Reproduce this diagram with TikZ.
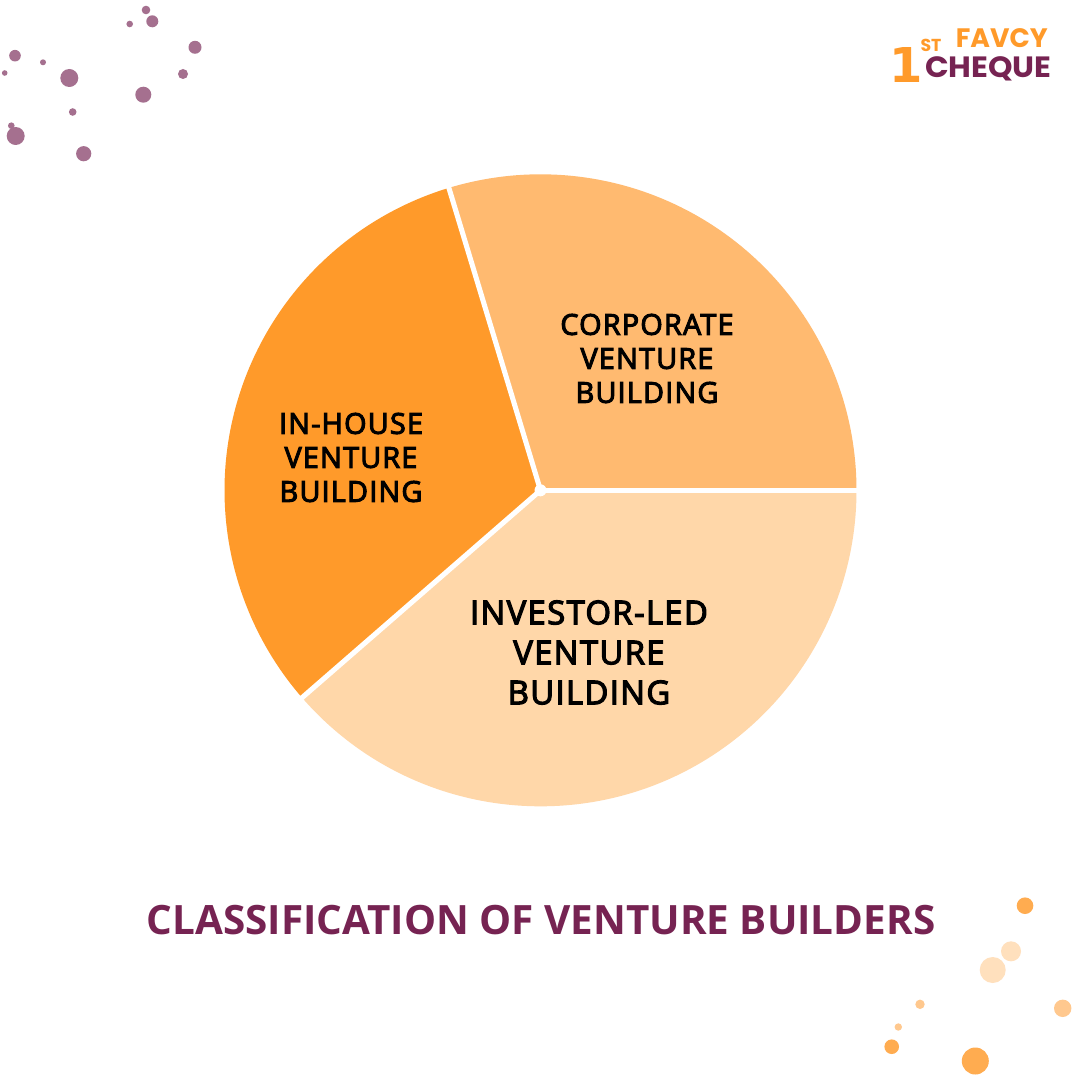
\documentclass[tikz,border=0pt]{standalone}
\usepackage{fontspec}
\setmainfont{Open Sans}
\newfontfamily\semi{Open Sans}[FakeBold=3.6,LetterSpace=4.2]
\newfontfamily\bolder{Open Sans Bold}
\newfontfamily\logofont{Poppins Bold}
\newfontfamily\onefont{DejaVu Sans Bold}
\definecolor{pieA}{HTML}{FFBA70}
\definecolor{pieB}{HTML}{FF9A2A}
\definecolor{pieC}{HTML}{FFD7A9}
\definecolor{plum}{HTML}{762352}
\definecolor{dotP}{HTML}{A5708F}
\definecolor{dotO}{HTML}{FFAC50}
\definecolor{dotL}{HTML}{FFE0BD}
\definecolor{dotM}{HTML}{FFC88E}
\definecolor{logoO}{HTML}{FF9A2A}
\tikzset{
  sep/.style={draw=white,line width=3.8pt},
  lab/.style={align=center,inner sep=0pt,text=black,font=\semi\fontsize{21.6}{25.5}\selectfont},
  labbig/.style={align=center,inner sep=0pt,text=black,font=\semi\fontsize{24.6}{30}\selectfont},
  logot/.style={inner sep=0pt}
}
\newcommand{\dotc}[4]{\fill[#1] (#2,#3) circle[radius=#4];}
\begin{document}
\begin{tikzpicture}[x=0.75pt,y=-0.75pt]
\useasboundingbox (0,0) rectangle (1080,1080);
\fill[white] (0,0) rectangle (1080,1080);
\coordinate (c) at (540.5,490.3);
\coordinate (e1) at (859,490.3);
\coordinate (e2) at (448,185);
\coordinate (e3) at (300.5,699);
% pie
\fill[pieA] (c) -- +(0:316) arc[start angle=0,end angle=-106.7,radius=316] -- cycle;
\fill[pieB] (c) -- +(-106.7:316) arc[start angle=-106.7,end angle=-221,radius=316] -- cycle;
\fill[pieC] (c) -- +(139:316) arc[start angle=139,end angle=0,radius=316] -- cycle;
\draw[sep] (c) -- (e1);
\draw[sep] (c) -- (e2);
\draw[sep] (c) -- (e3);
\fill[white] (c) circle[radius=6];
% labels
\node[lab] (corp) at (647,358.5) {CORPORATE\\VENTURE\\BUILDING};
\node[lab] (inh) at (351,457.5) {IN-HOUSE\\VENTURE\\BUILDING};
\node[labbig] (inv) at (589,652.5) {INVESTOR-LED\\VENTURE\\BUILDING};
\node[inner sep=0pt,text=plum,font=\bolder\fontsize{30.3}{36}\selectfont] (title) at (541,920) {CLASSIFICATION OF VENTURE BUILDERS};
% logo
\node[logot,text=logoO,anchor=base east,font=\logofont\fontsize{20}{20}\selectfont] (favcy) at (1048,48) {FAVCY};
\node[logot,text=logoO,anchor=base,font=\onefont\fontsize{36}{36}\selectfont] (one) at (906,83) {1};
\node[logot,text=logoO,anchor=base,font=\logofont\fontsize{13}{13}\selectfont] (st) at (931,52) {ST};
\node[logot,text=plum,anchor=base east,font=\logofont\fontsize{22}{22}\selectfont,xscale=1.06,transform shape] (cheque) at (1052,78) {CHEQUE};
% dots top-left
\dotc{dotP}{146}{10}{4.3}
\dotc{dotP}{152.3}{21.3}{6}
\dotc{dotP}{129.7}{24}{3.3}
\dotc{dotP}{195}{47.3}{6.5}
\dotc{dotP}{183}{74}{5}
\dotc{dotP}{143.3}{94.7}{8}
\dotc{dotP}{15}{55.7}{5.8}
\dotc{dotP}{43}{62.3}{3}
\dotc{dotP}{4.7}{73}{2.8}
\dotc{dotP}{69.3}{78}{9}
\dotc{dotP}{72.7}{112}{3.8}
\dotc{dotP}{11.3}{125.7}{3.3}
\dotc{dotP}{15.7}{136}{9}
\dotc{dotP}{83.7}{153.7}{7.6}
% dots bottom-right
\dotc{dotO}{1025}{905.7}{8.3}
\dotc{dotL}{1011}{951.3}{10}
\dotc{dotL}{992.7}{970}{13}
\dotc{dotM}{1062.7}{1008.3}{8.7}
\dotc{dotM}{920}{1004.3}{4.7}
\dotc{dotM}{898.3}{1027}{3.7}
\dotc{dotO}{891.7}{1046.7}{7.3}
\dotc{dotO}{975.3}{1061}{13.5}
\end{tikzpicture}
\end{document}
